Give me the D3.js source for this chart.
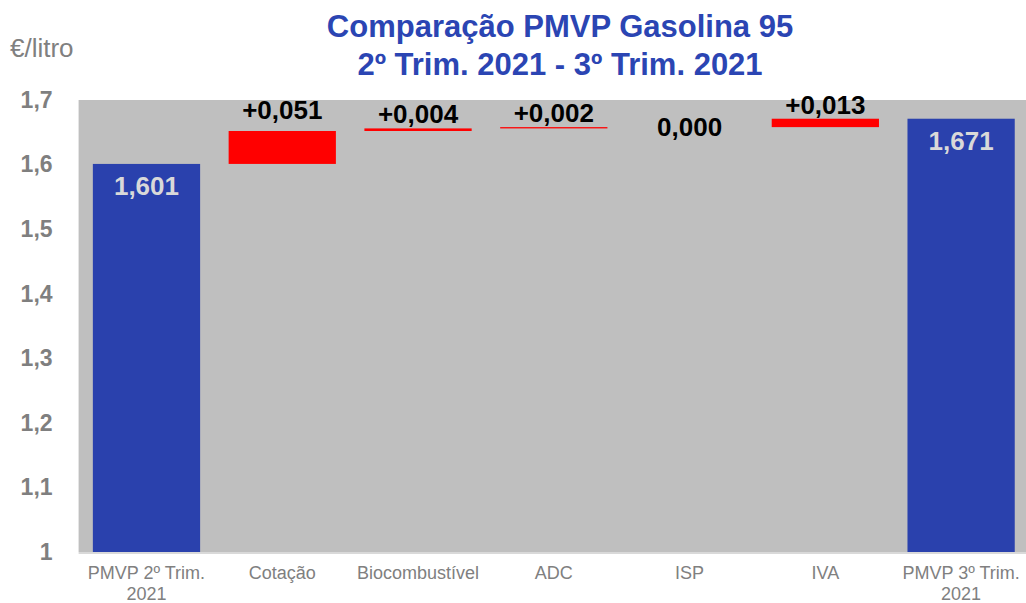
<!DOCTYPE html>
<html>
<head>
<meta charset="utf-8">
<script src="https://cdn.jsdelivr.net/npm/d3@7"></script>
<style>
  body { margin: 0; background: #fff; }
  text { font-family: "Liberation Sans", Arial, sans-serif; }
</style>
</head>
<body>
<div id="chart"></div>
<script>
/*
    DATA
*/
let CATEGORIES = [["PMVP 2º Trim.", "2021"], ["Cotação"], ["Biocombustível"], ["ADC"], ["ISP"], ["IVA"], ["PMVP 3º Trim.", "2021"]];
let START_VALUE = 1.601;
let DELTAS = [0.051, 0.004, 0.002, 0.000, 0.013];
let END_VALUE = 1.671;
let Y_TICKS = [1, 1.1, 1.2, 1.3, 1.4, 1.5, 1.6, 1.7];
let TITLE_LINES = ["Comparação PMVP Gasolina 95", "2º Trim. 2021 - 3º Trim. 2021"];
let UNIT_LABEL = "€/litro";

/*
    CONSTANTS
*/
let SIZE = { width: 1026, height: 603 };
let PLOT = { left: 78.6, right: 1029, top: 100, bot: 552 };
let BLUE = "#2a41ad";
let RED = "#ff0000";

let pt = d3.formatLocale({ decimal: ",", thousands: ".", grouping: [3], currency: ["", "€"] });
let fmtVal = pt.format(".3f");
let fmtDelta = pt.format("+.3f");
let fmtTick = pt.format(".2~g");

// build waterfall rows
let rows = [];
rows.push({ cat: 0, base: 1, top: START_VALUE, kind: "total", value: START_VALUE });
let running = START_VALUE;
DELTAS.forEach((d, i) => {
    rows.push({ cat: i + 1, base: running, top: running + d, kind: "delta", value: d });
    running += d;
});
rows.push({ cat: CATEGORIES.length - 1, base: 1, top: END_VALUE, kind: "total", value: END_VALUE });

var svg = d3.select("#chart")
    .append("svg")
    .attr("width", SIZE.width)
    .attr("height", SIZE.height);

var x = d3.scaleBand()
    .domain(d3.range(CATEGORIES.length))
    .range([PLOT.left, PLOT.right])
    .paddingInner(0.21)
    .paddingOuter(0.105);

var y = d3.scaleLinear()
    .domain([1, 1.7])
    .range([PLOT.bot, PLOT.top]);

// plot background
svg.append("rect")
    .attr("x", PLOT.left)
    .attr("y", PLOT.top)
    .attr("width", PLOT.right - PLOT.left)
    .attr("height", PLOT.bot - PLOT.top)
    .attr("fill", "#bfbfbf");

svg.append("line")
    .attr("x1", PLOT.left).attr("x2", PLOT.right)
    .attr("y1", PLOT.bot + 1).attr("y2", PLOT.bot + 1)
    .attr("stroke", "#d9d9d9")
    .attr("stroke-width", 2);

// bars
svg.selectAll("rect.bar")
    .data(rows.filter(r => r.top !== r.base))
    .enter()
    .append("rect")
    .attr("class", "bar")
    .attr("x", r => x(r.cat))
    .attr("width", x.bandwidth())
    .attr("y", r => y(Math.max(r.top, r.base)))
    .attr("height", r => Math.abs(y(r.base) - y(r.top)))
    .attr("fill", r => r.kind === "total" ? BLUE : RED);

// value labels
svg.selectAll("text.val")
    .data(rows)
    .enter()
    .append("text")
    .attr("class", "val")
    .attr("x", r => x(r.cat) + x.bandwidth() / 2)
    .attr("y", r => {
        if (r.kind === "total") return y(r.top) + 31;
        if (r.value === 0) return y(r.top) + 9;
        var h = y(r.base) - y(r.top);
        return y(r.top) - (h > 15 ? 12 : 5);
    })
    .attr("text-anchor", "middle")
    .attr("font-size", 26)
    .attr("font-weight", "bold")
    .attr("fill", r => r.kind === "total" ? "#d9d9d9" : "#000")
    .text(r => r.kind === "total" ? fmtVal(r.value) : (r.value === 0 ? fmtVal(0) : fmtDelta(r.value)));

// y axis
var yAxis = svg.append("g")
    .attr("transform", `translate(${PLOT.left}, 0)`)
    .call(d3.axisLeft(y).tickValues(Y_TICKS).tickSize(0).tickPadding(26).tickFormat(fmtTick));
yAxis.select(".domain").remove();
yAxis.selectAll("text")
    .attr("font-family", "Liberation Sans, Arial, sans-serif")
    .attr("font-size", 23)
    .attr("font-weight", "bold")
    .attr("fill", "#7f7f7f");

// x labels
var xl = svg.selectAll("text.cat")
    .data(CATEGORIES)
    .enter()
    .append("text")
    .attr("class", "cat")
    .attr("text-anchor", "middle")
    .attr("font-size", 18)
    .attr("fill", "#808080");
xl.selectAll("tspan")
    .data((d, i) => d.map(line => ({ line: line, i: i })))
    .enter()
    .append("tspan")
    .attr("x", d => x(d.i) + x.bandwidth() / 2)
    .attr("y", (d, j) => 579 + j * 20.5)
    .text(d => d.line);

// unit label
svg.append("text")
    .attr("x", 10)
    .attr("y", 57)
    .attr("font-size", 26)
    .attr("fill", "#808080")
    .text(UNIT_LABEL);

// title
svg.selectAll("text.title")
    .data(TITLE_LINES)
    .enter()
    .append("text")
    .attr("class", "title")
    .attr("x", 560)
    .attr("y", (d, i) => 37 + i * 38)
    .attr("text-anchor", "middle")
    .attr("font-size", 31)
    .attr("font-weight", "bold")
    .attr("fill", "#2b45b3")
    .text(d => d);
</script>
</body>
</html>
